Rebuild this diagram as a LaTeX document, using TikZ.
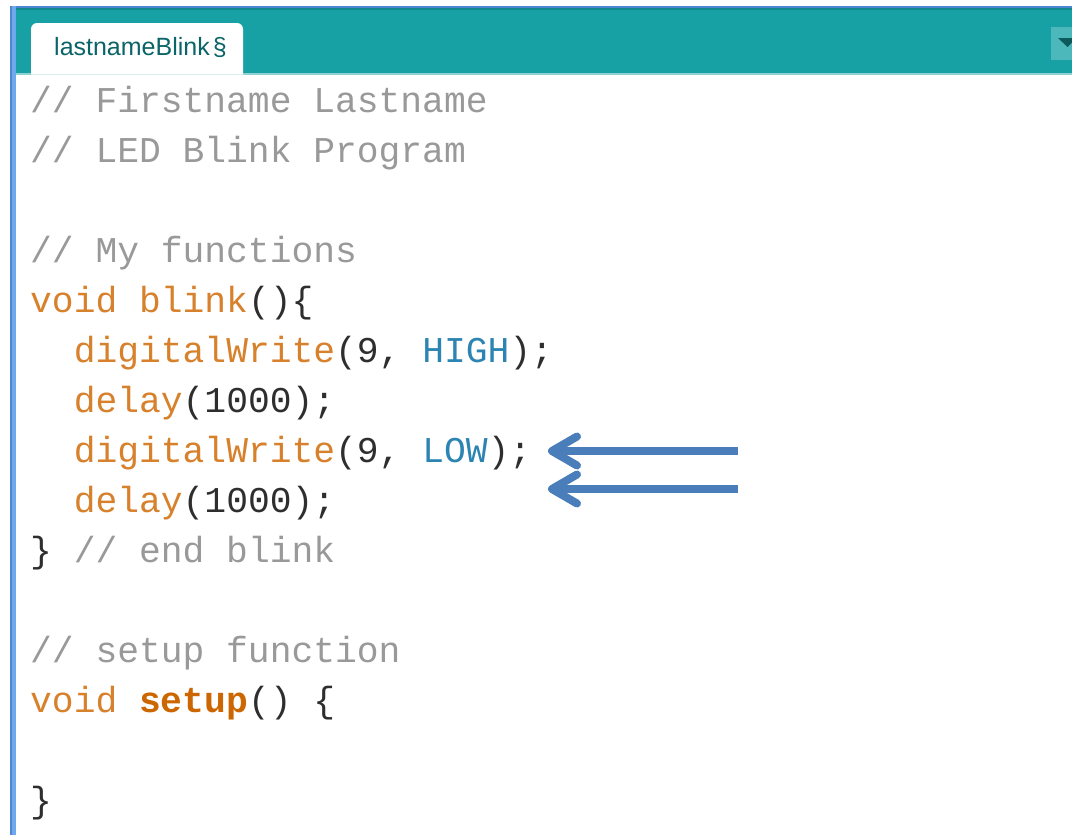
\documentclass[tikz,border=0pt]{standalone}
\usepackage{fontspec}
\setmainfont{Liberation Sans}
\setmonofont{Liberation Mono}

\definecolor{ideteal}{HTML}{17A1A5}
\definecolor{idetealdark}{HTML}{12898D}
\definecolor{idetealpale}{HTML}{8FD2D4}
\definecolor{idetabtext}{HTML}{0B6468}
\definecolor{idebtn}{HTML}{4DB8BC}
\definecolor{idebtnarrow}{HTML}{0D5A5D}
\definecolor{frameblue}{HTML}{6EA8EE}
\definecolor{frameblueedge}{HTML}{4E86D2}
\definecolor{plaintxt}{HTML}{2E2E2E}
\definecolor{commenttxt}{HTML}{999999}
\definecolor{keywordtxt}{HTML}{D8812C}
\definecolor{keywordbold}{HTML}{CC6600}
\definecolor{consttxt}{HTML}{2C84B2}
\definecolor{arrowblue}{HTML}{4A7EBB}

\newcommand{\codefont}{\ttfamily\fontsize{36.3pt}{50pt}\selectfont}
\newcommand{\ardkw}[1]{\textcolor{keywordtxt}{#1}}
\newcommand{\ardbf}[1]{\textcolor{keywordbold}{\bfseries #1}}
\newcommand{\ardcn}[1]{\textcolor{consttxt}{#1}}
\newcommand{\ardcm}[1]{\textcolor{commenttxt}{#1}}

\begin{document}
\begin{tikzpicture}[x=1pt,y=-1pt,
  codeline/.style={anchor=base west, inner sep=0pt, font=\codefont, text=plaintxt},
  tablabel/.style={anchor=base west, inner sep=0pt, text=idetabtext,
    font=\fontsize{25pt}{28pt}\selectfont},
  pointer/.style={draw=arrowblue, line width=8pt},
  barb/.style={draw=arrowblue, line width=8pt, line cap=round, line join=round}]

\useasboundingbox (0,0) rectangle (1072,835);
\fill[white] (0,0) rectangle (1072,835);

% editor header band
\fill[ideteal] (16,7) rectangle (1072,74);
\fill[idetealdark] (16,7) rectangle (1072,10);
\fill[idetealpale] (16,72.5) rectangle (1072,74.5);
\fill[frameblueedge] (10,5.5) rectangle (1072,7.5);

% window frame on the left
\fill[frameblue] (10,6) rectangle (16,835);
\fill[frameblueedge] (10,6) rectangle (11.5,835);

% sketch tab
\fill[white] (31,74.5) [rounded corners=6pt] -- (31,23) -- (243,23)
  [sharp corners] -- (243,74.5) -- cycle;
\node[tablabel] (tab) at (54,55) {lastnameBlink\hspace{3pt}\S};

% tab menu button
\begin{scope}
\clip (0,0) rectangle (1072,835);
\fill[idebtn] (1051,27) rectangle (1080,60);
\fill[idebtnarrow] (1058,38) -- (1077,38) -- (1067.5,47) -- cycle;
\end{scope}

% code lines
\node[codeline] (l0)  at (30,112) {\ardcm{// Firstname Lastname}};
\node[codeline] (l1)  at (30,162) {\ardcm{// LED Blink Program}};
\node[codeline] (l3)  at (30,262) {\ardcm{// My functions}};
\node[codeline] (l4)  at (30,312) {\ardkw{void} \ardkw{blink}()\{};
\node[codeline] (l5)  at (73.6,362) {\ardkw{digitalWrite}(9, \ardcn{HIGH});};
\node[codeline] (l6)  at (73.6,412) {\ardkw{delay}(1000);};
\node[codeline] (l7)  at (73.6,462) {\ardkw{digitalWrite}(9, \ardcn{LOW});};
\node[codeline] (l8)  at (73.6,512) {\ardkw{delay}(1000);};
\node[codeline] (l9)  at (30,562) {\} \ardcm{// end blink}};
\node[codeline] (l11) at (30,662) {\ardcm{// setup function}};
\node[codeline] (l12) at (30,712) {\ardkw{void} \ardbf{setup}() \{};
\node[codeline] (l14) at (30,812) {\}};

% pointers: shaft plus an open, round-jointed head
\coordinate (s1) at (738,451);
\coordinate (t1) at (552,451);
\coordinate (s2) at (738,489);
\coordinate (t2) at (552,489);
\draw[pointer] (s1) -- (t1);
\draw[barb] (t1) ++(25,-14.5) -- (t1) -- ++(25,14.5);
\draw[pointer] (s2) -- (t2);
\draw[barb] (t2) ++(25,-14.5) -- (t2) -- ++(25,14.5);

\end{tikzpicture}
\end{document}
